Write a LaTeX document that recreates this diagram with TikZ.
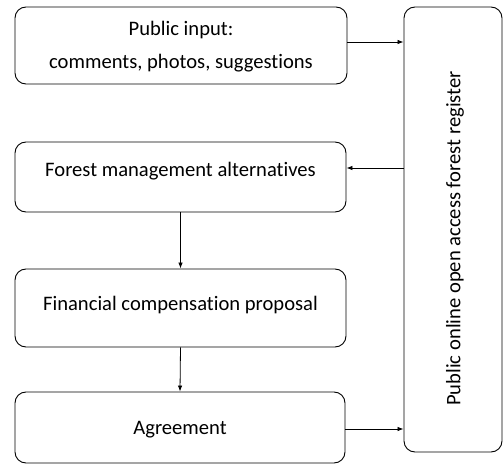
\documentclass[tikz,border=0pt]{standalone}
\usepackage{fontspec}
\setmainfont{Carlito}[Ligatures=NoCommon]
\usetikzlibrary{arrows.meta,calc}
\begin{document}
\begin{tikzpicture}[x=1pt,y=1pt,
  box/.style={draw,line width=0.9pt,rounded corners=11pt,inner sep=0pt},
  lbl/.style={font=\fontsize{20.6}{33}\selectfont,align=center,inner sep=0pt},
  conn/.style={line width=0.8pt,-{Latex[length=6pt,width=4.5pt]}}]
\useasboundingbox (0,0) rectangle (503,464);
\node[box,minimum width=332,minimum height=77] (b1) at (181,418.5) {};
\node[box,minimum width=331,minimum height=70] (b2) at (180.5,287) {};
\node[box,minimum width=331,minimum height=78] (b3) at (180.5,156) {};
\node[box,minimum width=330,minimum height=71] (b4) at (180,36.5) {};
\node[box,minimum width=98,minimum height=445] (r) at (453,234.5) {};
\node[lbl] (t1) at (181,417) {Public input:\\comments, photos, suggestions};
\node[lbl] (t2) at (180.5,293) {Forest management alternatives};
\node[lbl] (t3) at (180.5,159) {Financial compensation proposal};
\node[lbl] (t4) at (180,34) {Agreement};
\node[lbl,rotate=90] (tr) at (455,225.5) {Public online open access forest register};
\coordinate (a1) at ($(b1.east)+(0,3.5)$);
\draw[conn] (a1) -- (a1 -| r.west);
\coordinate (a2) at ($(b2.east)+(0,9)$);
\draw[conn] (a2 -| r.west) -- (a2);
\draw[conn] (b2.south) -- (b3.north);
\draw[conn] (b3.south) -- (b4.north);
\coordinate (a4) at ($(b4.east)+(0,-1.5)$);
\draw[conn] (a4) -- (a4 -| r.west);
\end{tikzpicture}
\end{document}
